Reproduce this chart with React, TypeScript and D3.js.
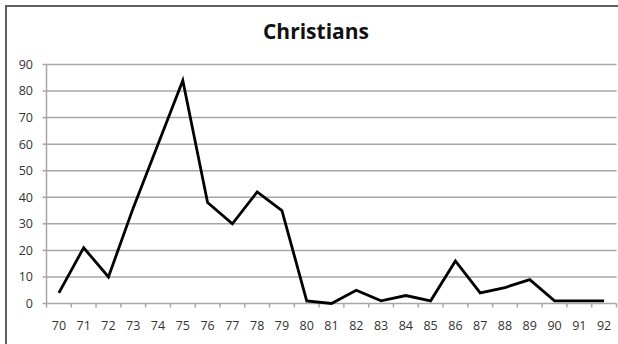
import React from "react";
import * as d3 from "d3";

const years = ["70","71","72","73","74","75","76","77","78","79","80","81","82","83","84","85","86","87","88","89","90","91","92"];
const values = [4,21,10,36,60,84,38,30,42,35,1,0,5,1,3,1,16,4,6,9,1,1,1];
const yTicks = [0,10,20,30,40,50,60,70,80,90];
const title = "Christians";

const W = 618, H = 344;
const left = 46.5, right = 616.5, top = 64.5, bottom = 303.5;

export default function App() {
  const x = d3.scaleBand<string>().domain(years).range([left, right]).paddingInner(0).paddingOuter(0);
  const y = d3.scaleLinear().domain([0, 90]).range([bottom, top]);
  const line = d3.line<number>()
    .x((_, i) => (x(years[i]) as number) + x.bandwidth() / 2)
    .y((d) => y(d));
  const tickXs = years.map((yr) => x(yr) as number).concat([right]);
  const font = "'Open Sans', 'DejaVu Sans', sans-serif";
  return (
    <svg width={W} height={H} style={{ position: "absolute", left: 0, top: 0, background: "#fff" }}>
      <rect x={0} y={0} width={W} height={H} fill="#fff" />
      <rect x={6} y={6} width={800} height={500} fill="none" stroke="#5e5e5e" strokeWidth={2} />
      <text x={316} y={39} textAnchor="middle" fontFamily={font} fontWeight="bold" fontSize={21} fill="#111">{title}</text>
      {yTicks.map((t) => (
        <g key={t}>
          <line x1={left} x2={right} y1={y(t)} y2={y(t)} stroke="#a6a6a6" strokeWidth={1.5} />
          <line x1={left - 4} x2={left} y1={y(t)} y2={y(t)} stroke="#a6a6a6" strokeWidth={1.5} />
          <text x={33} y={y(t)} dy="0.35em" textAnchor="end" fontFamily={font} fontSize={12.5} fill="#333">{t}</text>
        </g>
      ))}
      <line x1={left} x2={left} y1={top} y2={bottom} stroke="#a6a6a6" strokeWidth={1.5} />
      {tickXs.map((tx, i) => (
        <line key={i} x1={tx} x2={tx} y1={bottom} y2={bottom + 4} stroke="#a6a6a6" strokeWidth={1.5} />
      ))}
      {years.map((yr) => (
        <text key={yr} x={(x(yr) as number) + x.bandwidth() / 2} y={326} dy="0.35em" textAnchor="middle" fontFamily={font} fontSize={12.5} fill="#333">{yr}</text>
      ))}
      <path d={line(values) || ""} fill="none" stroke="#000" strokeWidth={2.8} strokeLinejoin="miter" />
    </svg>
  );
}
